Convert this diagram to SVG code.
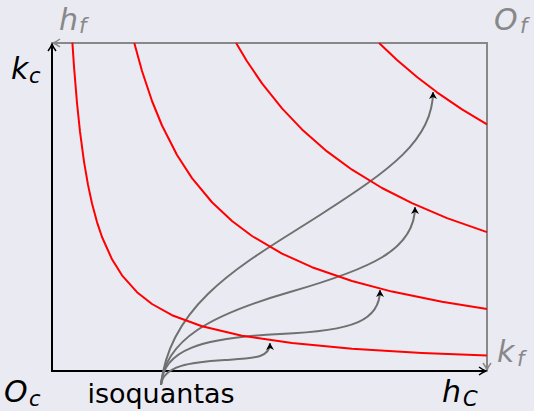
<svg xmlns="http://www.w3.org/2000/svg" width="534" height="411" viewBox="0 0 534 411">
<defs>
<style>
.axis{stroke:#000;stroke-width:2;fill:none}
.box{stroke:#888;stroke-width:2;fill:none}
.iso{stroke:#ff0000;stroke-width:2;fill:none;stroke-linejoin:round}
.path{stroke:#707070;stroke-width:2;fill:none}
.lbl{font-family:"DejaVu Sans",sans-serif;font-style:italic;font-size:30px}
.sub{font-size:21px}
</style>
<marker id="ab" viewBox="-8 -5 10 10" refX="0" refY="0" markerWidth="10" markerHeight="10" markerUnits="userSpaceOnUse" orient="auto">
<path d="M-7,-4 Q-3,-1 0,0 Q-3,1 -7,4" fill="none" stroke="#000" stroke-width="1.5"/>
</marker>
<marker id="ag" viewBox="-8 -5 10 10" refX="0" refY="0" markerWidth="10" markerHeight="10" markerUnits="userSpaceOnUse" orient="auto">
<path d="M-7,-4 Q-3,-1 0,0 Q-3,1 -7,4" fill="none" stroke="#888" stroke-width="1.5"/>
</marker>
<marker id="ah" viewBox="-8 -5 10 10" refX="0" refY="0" markerWidth="10" markerHeight="10" markerUnits="userSpaceOnUse" orient="auto">
<path d="M-7,-4 L0,0 L-7,4 L-5,0 Z" fill="#000"/>
</marker>
</defs>
<rect width="534" height="411" fill="#eaeaf2"/>
<g id="connectors">
<path class="box" d="M487,371 L487,43 L53,43" marker-end="url(#ag)"/>
<path class="box" d="M487,43 L487,370" marker-end="url(#ag)"/>
<path class="axis" d="M52,372 L52,44" marker-end="url(#ab)"/>
<path class="axis" d="M51,371 L486,371" marker-end="url(#ab)"/>
<path class="path" d="M161,385 C163,366 190,362 225,360 C255,358 270,358 270,343" marker-end="url(#ah)"/>
<path class="path" d="M161,385 C163,350 200,338 280,334 C355,331 380,320 380,290" marker-end="url(#ah)"/>
<path class="path" d="M161,385 C165,340 210,315 290,292 C370,269 415,250 415,207" marker-end="url(#ah)"/>
<path class="path" d="M161,385 C170,300 250,260 320,215 C390,170 433,140 433,92" marker-end="url(#ah)"/>
</g>
<g id="isoquant1"><polyline class="iso" points="72.4,42.6 74,66.5 77,103 80,131.7 84,161.6 88,184.9 92,203.5 97,222.1 102,237 112,259.3 122,275.3 137,292.2 152,304 172,315.2 202,326.3 242,335.7 292,343.1 352,348.7 422,352.9 487,355.6"/></g>
<g id="isoquant2"><polyline class="iso" points="134.3,43 142,71 152,101 162,125.5 177,155 192,178.1 212,202.25 232,221 252,236 282,253.6 312,267.2 352,281 392,291.6 442,301.8 487,308.9"/></g>
<g id="isoquant3"><polyline class="iso" points="236.1,43 247,61.3 262,83.4 282,108.4 302,129.4 327,151.4 352,169.7 382,188 412,203.2 447,218.1 487,232.1"/></g>
<g id="isoquant4"><polyline class="iso" points="379.1,43 397,60 417,77 437,92.3 462,109.3 487,124.3"/></g>
<g id="labels">
<text class="lbl" x="59" y="30" fill="#888">h<tspan class="sub" x="79" dy="3">f</tspan></text>
<text class="lbl" x="494" y="30" fill="#888">O<tspan class="sub" x="520" dy="3">f</tspan></text>
<text class="lbl" x="11" y="79" fill="#000">k<tspan class="sub" x="29" dy="4">c</tspan></text>
<text class="lbl" x="4" y="402" fill="#000">O<tspan class="sub" x="29" dy="4">c</tspan></text>
<text class="lbl" x="442" y="402" fill="#000">h<tspan class="sub" x="463" dy="4">C</tspan></text>
<text class="lbl" x="497" y="362" fill="#888">k<tspan class="sub" x="517" dy="4">f</tspan></text>
<text x="161" y="403" font-family="DejaVu Sans,sans-serif" font-size="27" text-anchor="middle" fill="#000">isoquantas</text>
</g>
</svg>
